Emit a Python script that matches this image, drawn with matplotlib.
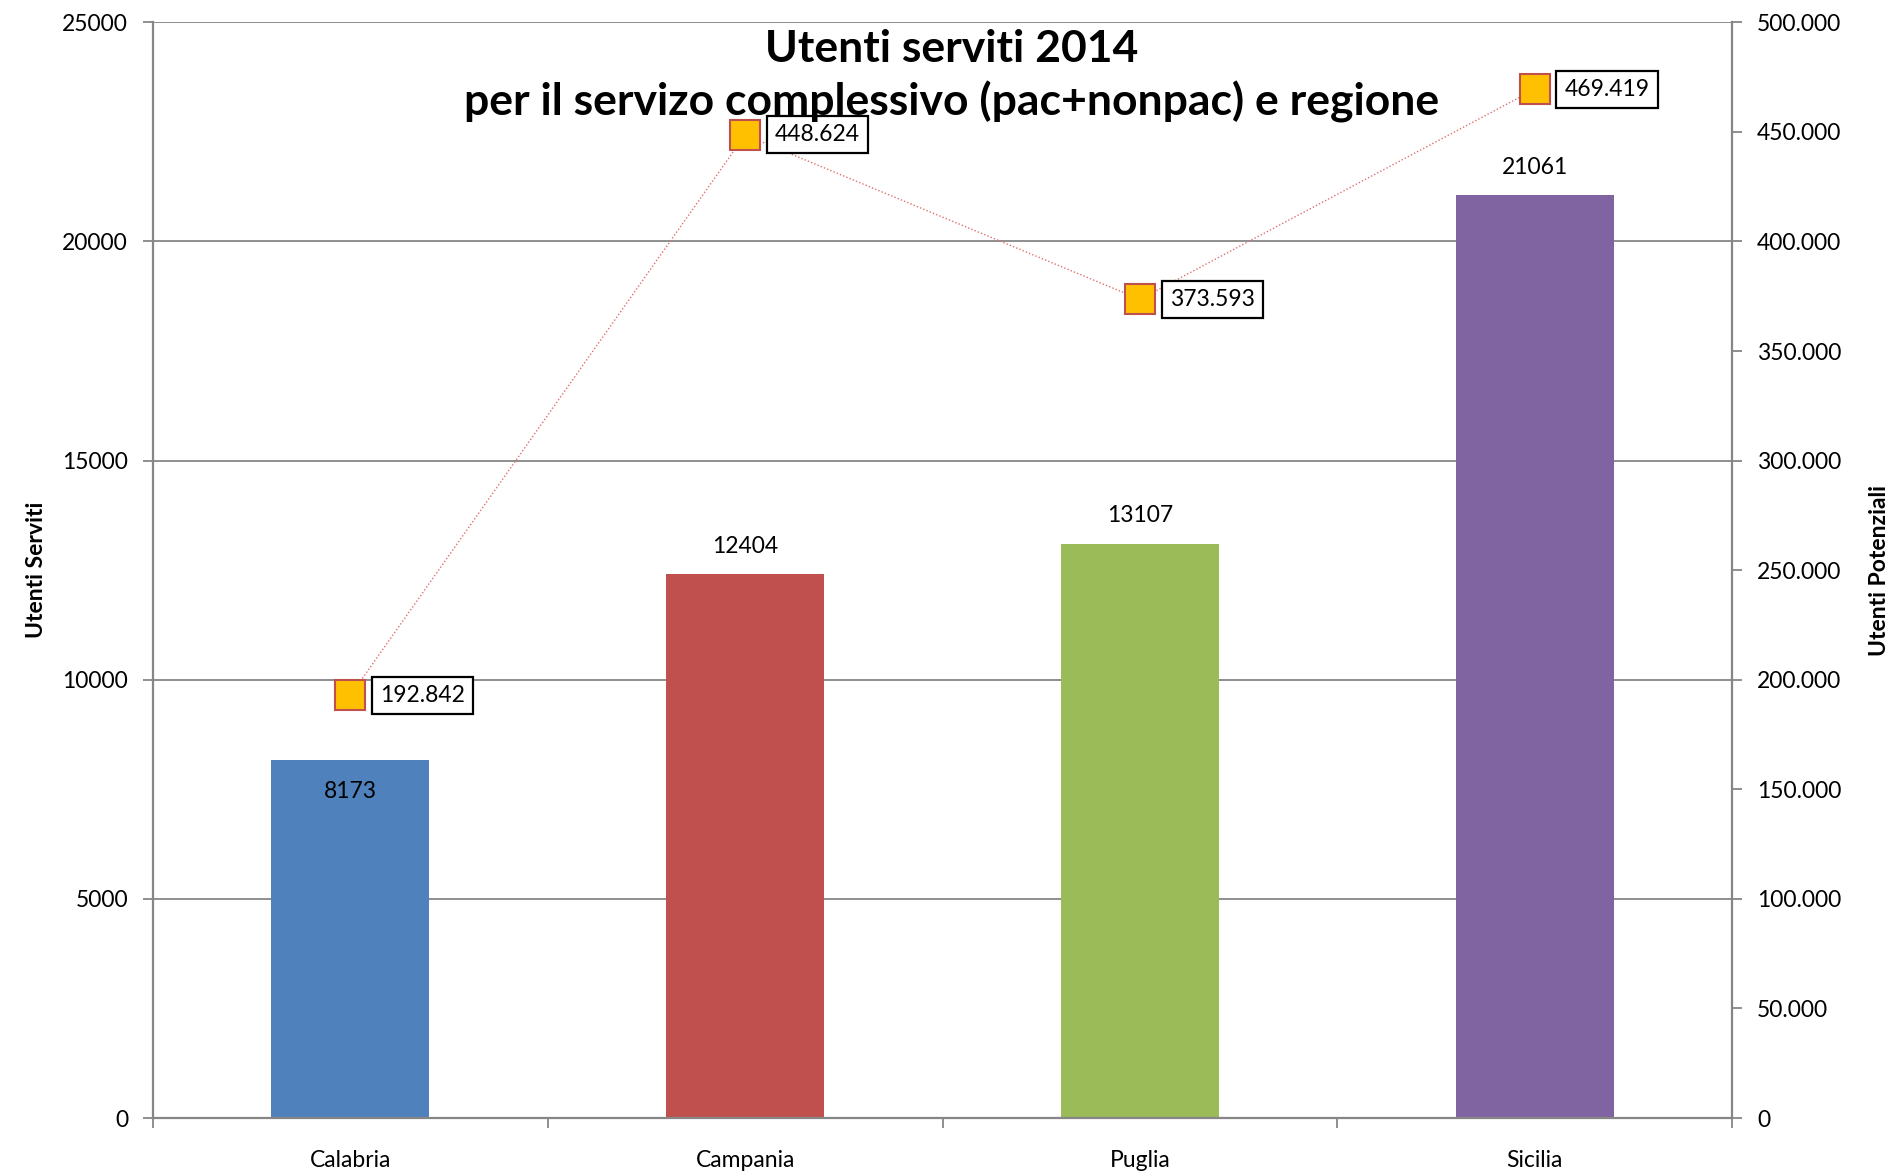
import matplotlib
matplotlib.use("Agg")
import matplotlib.pyplot as plt
from matplotlib.ticker import FuncFormatter, FixedLocator

plt.rcParams['font.family'] = ['Lato', 'DejaVu Sans']

regions = ["Calabria", "Campania", "Puglia", "Sicilia"]
served = [8173, 12404, 13107, 21061]
potential = [192842, 448624, 373593, 469419]
potential_labels = ["192.842", "448.624", "373.593", "469.419"]
bar_colors = ["#4F81BD", "#C0504D", "#9BBB59", "#8064A2"]
left_ticks = [0, 5000, 10000, 15000, 20000, 25000]
right_ticks = [0, 50000, 100000, 150000, 200000, 250000, 300000, 350000, 400000, 450000, 500000]
title_lines = ["Utenti serviti 2014", "per il servizo complessivo (pac+nonpac) e regione"]

FS = 16.5

fig = plt.figure(figsize=(18.96, 11.75), dpi=100)
ax = fig.add_axes([0.0807, 0.0485, 0.9135 - 0.0807, 0.981 - 0.0485])
ax2 = ax.twinx()

grey = "#868686"
x = list(range(len(regions)))
bars = ax.bar(x, served, width=0.40, color=bar_colors, zorder=2)
ax.set_xlim(-0.5, len(regions) - 0.5)
ax.set_ylim(0, 25000)
ax.set_yticks(left_ticks)
ax.yaxis.grid(True, color=grey, linewidth=1.3, zorder=0)
ax.set_axisbelow(True)

ax.set_xticks(x)
ax.set_xticklabels(regions, fontsize=FS)
ax.tick_params(axis='x', which='major', length=0, pad=23)
ax.xaxis.set_minor_locator(FixedLocator([i - 0.5 for i in range(len(regions) + 1)]))
ax.tick_params(axis='x', which='minor', length=7, width=1.3, color=grey, direction='out')
ax.tick_params(axis='y', length=7, width=1.3, color=grey, direction='out', labelsize=FS, pad=11)

for s in ['top', 'right']:
    ax.spines[s].set_visible(False)
for s in ['left', 'bottom']:
    ax.spines[s].set_color(grey)
    ax.spines[s].set_linewidth(1.6)
for s in ['top', 'left', 'bottom']:
    ax2.spines[s].set_visible(False)
ax2.spines['right'].set_color(grey)
ax2.spines['right'].set_linewidth(1.6)

ax.set_ylabel("Utenti Serviti", fontsize=FS, fontweight='bold', labelpad=11)

# bar labels
for i, v in enumerate(served):
    off = -23 if i == 0 else 20
    ax.annotate(str(v), (x[i], v), xytext=(0, off), textcoords='offset points',
                ha='center', va='center', fontsize=FS, zorder=3)

# secondary axis
ax2.set_ylim(0, 500000)
ax2.set_yticks(right_ticks)
ax2.yaxis.set_major_formatter(FuncFormatter(lambda v, p: "0" if v == 0 else f"{int(v):,}".replace(",", ".")))
ax2.tick_params(axis='y', length=7, width=1.3, color=grey, direction='out', labelsize=FS, pad=11)
ax2.set_ylabel("Utenti Potenziali", fontsize=FS, fontweight='bold', labelpad=20)

ax2.plot(x, potential, linestyle=(0, (1, 1.5)), color="#E07070", linewidth=1.0,
         marker='s', markersize=21, markerfacecolor="#FFC000",
         markeredgecolor="#C0504D", markeredgewidth=1.5, zorder=4)
for i, v in enumerate(potential):
    ax2.annotate(potential_labels[i], (x[i], v), xytext=(21.5, 0), textcoords='offset points',
                 ha='left', va='center', fontsize=FS, zorder=5,
                 bbox=dict(boxstyle='square,pad=0.35', facecolor='white', edgecolor='black', linewidth=1.6))

ax2.text(0.506, 0.976, title_lines[0], transform=ax2.transAxes, ha='center', va='center',
         fontsize=32, fontweight='bold', zorder=6)
ax2.text(0.506, 0.927, title_lines[1], transform=ax2.transAxes, ha='center', va='center',
         fontsize=32, fontweight='bold', zorder=6)

fig.savefig("out.png", dpi=100)
